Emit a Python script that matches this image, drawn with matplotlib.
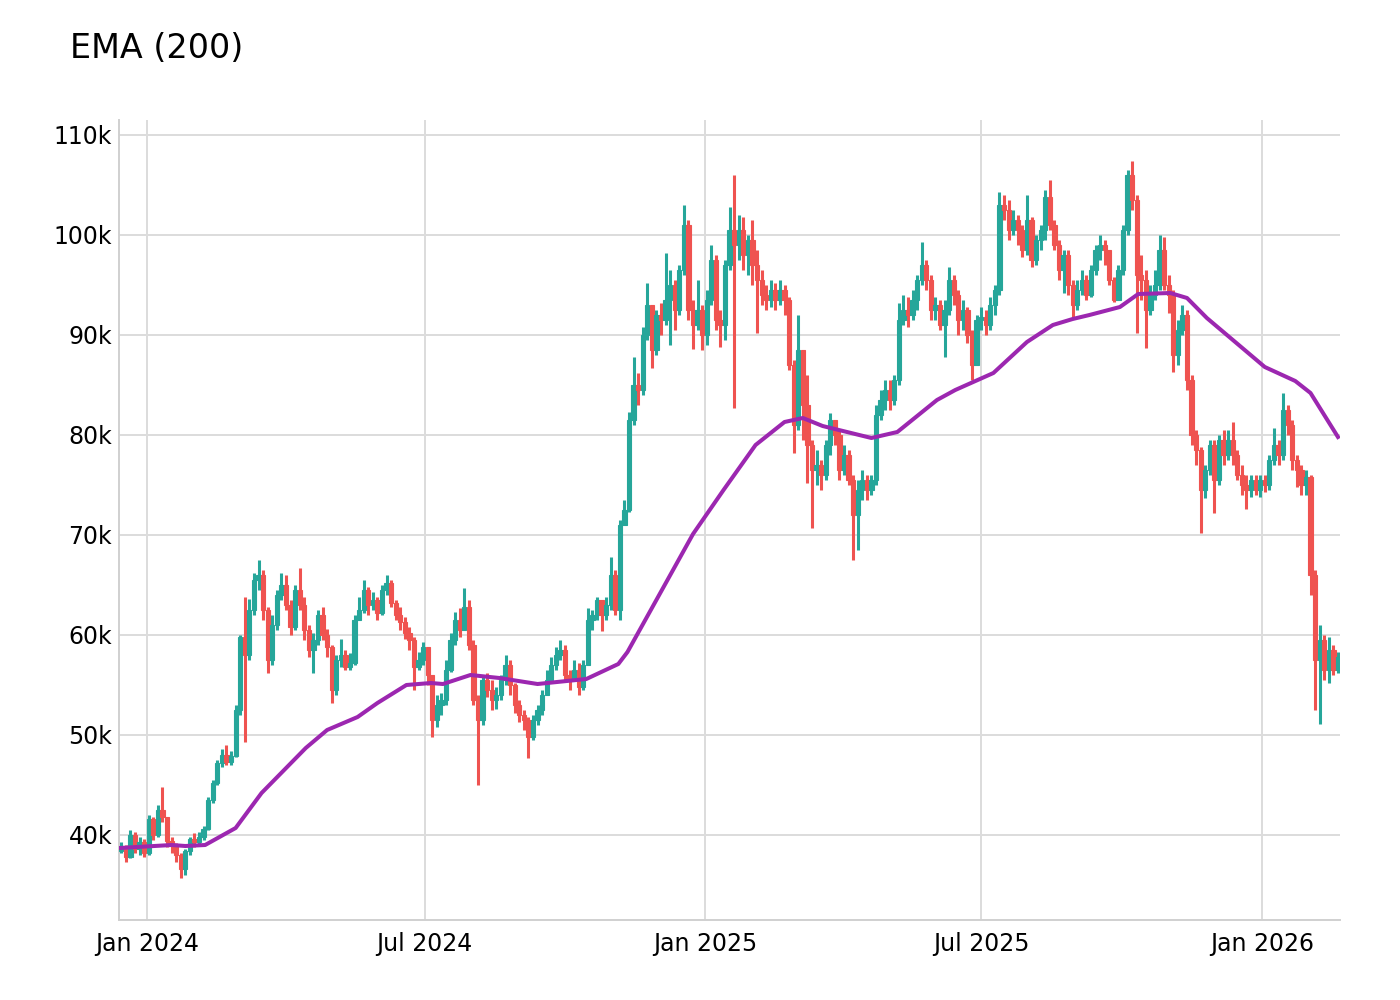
import numpy as np
import pandas as pd
import matplotlib
matplotlib.use("Agg")
import matplotlib.pyplot as plt
import matplotlib.dates as mdates

# BTC price in thousands, 3-day candles (Dec 2023 - Feb 2026)
first_open = 38.4
close = [
    38.9, 37.8, 40.0, 38.6, 39.3, 38.2, 41.6, 40.0, 42.5, 41.8,
    39.4, 39.0, 38.0, 36.6, 38.4, 39.6, 39.3, 39.8, 40.6, 43.5,
    45.2, 47.2, 48.0, 47.3, 47.9, 52.5, 59.8, 58.0, 62.5, 65.5,
    66.0, 62.5, 57.5, 61.0, 64.0, 65.0, 63.0, 60.8, 64.5, 63.0,
    60.5, 58.5, 59.5, 62.0, 60.0, 58.8, 54.5, 57.5, 58.0, 56.8,
    57.2, 61.5, 62.5, 64.5, 63.0, 63.5, 62.2, 64.5, 65.2, 63.2,
    62.0, 61.3, 60.2, 59.5, 56.8, 57.5, 58.8, 56.0, 51.5, 53.0,
    53.5, 56.5, 59.5, 61.5, 60.5, 62.8, 59.0, 53.5, 51.5, 55.5,
    54.5, 53.5, 54.0, 55.5, 57.0, 55.0, 53.0, 52.0, 51.5, 49.8,
    51.5, 52.5, 54.0, 55.5, 57.0, 58.0, 58.5, 56.0, 55.5, 56.5,
    54.8, 57.0, 61.5, 62.0, 63.5, 62.0, 63.0, 66.0, 62.5, 71.0,
    72.5, 81.5, 85.0, 84.5, 90.0, 93.0, 88.5, 92.0, 91.5, 93.5,
    95.0, 92.5, 96.5, 101.0, 92.5, 91.0, 92.5, 90.0, 93.5, 97.5,
    91.5, 91.0, 97.0, 100.5, 99.0, 100.5, 98.0, 99.5, 97.0, 95.5,
    94.0, 93.5, 94.5, 93.5, 94.5, 93.5, 87.0, 81.0, 88.5, 83.0,
    79.0, 76.5, 77.0, 76.0, 79.0, 81.5, 80.0, 76.5, 78.0, 75.5,
    72.0, 74.5, 75.5, 74.5, 75.5, 82.0, 83.5, 84.5, 83.5, 85.5,
    91.5, 92.5, 92.0, 93.5, 95.5, 97.0, 95.5, 92.5, 93.0, 91.0,
    92.5, 95.5, 94.0, 91.5, 92.5, 90.0, 87.0, 91.5, 91.8, 91.0,
    93.0, 94.5, 103.0, 102.5, 100.5, 101.5, 100.5, 98.5, 101.5, 97.5,
    99.5, 100.5, 103.8, 101.0, 99.0, 96.5, 98.0, 95.0, 93.0, 94.5,
    95.5, 94.0, 96.5, 98.5, 99.0, 98.5, 95.5, 93.5, 96.5, 100.5,
    106.0, 103.5, 96.0, 95.5, 92.5, 94.0, 95.0, 98.5, 95.0, 94.0,
    88.0, 90.5, 92.0, 85.5, 80.0, 78.5, 74.5, 76.5, 79.0, 75.5,
    79.5, 78.0, 79.5, 78.0, 76.0, 75.0, 74.5, 75.5, 74.5, 75.5,
    75.0, 77.5, 79.0, 78.0, 82.5, 81.0, 77.5, 76.5, 75.0, 75.8,
    66.0, 57.5, 59.5, 56.5, 58.5, 56.5, 57.8,
]
high = [
    39.3, 39.0, 40.5, 40.3, 39.8, 39.6, 42.0, 41.8, 43.0, 44.8,
    41.8, 39.8, 39.2, 38.2, 38.6, 39.8, 40.2, 40.3, 40.9, 43.8,
    45.5, 47.5, 48.6, 49.0, 48.4, 53.0, 60.0, 63.8, 63.6, 66.2,
    67.5, 66.5, 62.8, 62.0, 64.5, 66.2, 66.0, 63.5, 65.0, 66.7,
    63.8, 61.0, 60.2, 62.5, 62.8, 60.6, 59.0, 58.0, 59.6, 58.5,
    58.2, 62.0, 63.8, 65.5, 64.8, 64.3, 63.8, 65.0, 66.0, 65.5,
    63.5, 62.8, 61.8, 60.8, 59.8, 58.3, 59.3, 58.8, 56.0, 54.0,
    54.2, 57.5, 60.2, 62.3, 62.7, 64.7, 63.5, 59.5, 54.0, 56.0,
    56.2, 55.5, 54.8, 56.0, 58.0, 57.5, 55.2, 53.5, 52.5, 51.8,
    52.0, 53.0, 54.5, 56.5, 57.8, 58.8, 59.5, 59.0, 56.5, 57.5,
    57.2, 57.5, 62.7, 62.5, 63.8, 63.5, 63.8, 67.8, 66.5, 71.5,
    73.5, 82.3, 87.8, 86.2, 90.8, 95.2, 93.0, 92.5, 93.2, 98.2,
    96.5, 95.5, 97.0, 103.0, 101.5, 93.5, 95.5, 93.0, 94.5, 99.0,
    98.0, 92.5, 97.5, 102.8, 106.0, 102.0, 101.8, 100.0, 101.5, 98.5,
    96.5, 95.0, 95.5, 95.2, 95.5, 95.0, 93.8, 87.5, 92.0, 88.5,
    86.0, 79.5, 78.5, 77.5, 79.5, 82.2, 81.5, 80.5, 79.0, 78.5,
    76.0, 75.5, 76.5, 76.0, 76.0, 83.0, 84.5, 85.5, 85.5, 86.0,
    93.2, 94.0, 93.8, 94.5, 96.0, 99.3, 97.5, 96.0, 93.8, 93.5,
    93.5, 96.8, 96.0, 94.5, 93.5, 92.8, 90.5, 92.0, 92.8, 92.5,
    93.8, 95.0, 104.3, 104.0, 103.5, 102.5, 102.0, 101.0, 104.0, 101.8,
    100.0, 101.0, 104.5, 105.5, 101.5, 99.5, 98.5, 98.5, 95.5, 95.5,
    96.5, 96.0, 97.0, 99.0, 100.0, 99.5, 98.5, 95.8, 97.0, 101.0,
    106.5, 107.4, 104.0, 98.0, 96.5, 95.0, 96.5, 100.0, 99.8, 96.0,
    94.5, 91.5, 93.0, 92.5, 86.0, 80.5, 78.8, 77.0, 79.5, 79.5,
    80.0, 80.5, 80.5, 81.3, 78.5, 77.0, 76.0, 76.0, 76.0, 76.0,
    76.0, 78.0, 80.7, 79.5, 84.2, 83.0, 81.5, 78.0, 77.0, 76.5,
    76.0, 66.5, 61.0, 60.0, 59.8, 59.0, 58.3,
]
low = [
    38.2, 37.3, 37.7, 38.2, 38.0, 37.8, 38.0, 39.5, 39.8, 41.3,
    38.8, 38.2, 37.3, 35.7, 36.0, 38.0, 38.8, 39.0, 39.5, 40.5,
    43.2, 45.0, 46.8, 47.0, 47.0, 47.8, 52.0, 49.3, 57.5, 62.0,
    64.5, 61.5, 56.2, 57.0, 60.5, 63.5, 62.5, 60.0, 60.5, 62.5,
    59.5, 57.8, 56.2, 59.0, 59.5, 57.8, 53.2, 54.0, 56.8, 56.5,
    56.5, 57.0, 61.5, 62.2, 62.0, 62.5, 61.5, 62.0, 64.0, 62.8,
    61.5, 60.5, 59.6, 58.5, 54.5, 56.5, 57.0, 55.0, 49.8, 50.8,
    52.0, 53.0, 56.3, 59.0, 59.8, 60.5, 58.5, 53.0, 45.0, 51.0,
    53.8, 52.5, 52.6, 53.5, 55.0, 54.0, 52.2, 51.3, 50.5, 47.7,
    49.5, 51.0, 52.0, 54.0, 55.5, 56.5, 57.5, 55.5, 54.5, 55.5,
    54.0, 54.5, 57.0, 60.5, 61.5, 60.4, 61.5, 62.5, 62.0, 61.5,
    71.0, 72.3, 81.0, 83.0, 84.0, 89.5, 86.7, 88.0, 90.0, 91.0,
    89.0, 90.5, 92.0, 96.0, 91.5, 88.6, 90.5, 88.5, 89.0, 93.0,
    90.5, 88.8, 89.5, 96.5, 82.7, 97.5, 96.5, 96.0, 95.0, 90.2,
    93.0, 92.5, 92.8, 92.5, 93.0, 92.0, 86.5, 78.2, 80.5, 79.5,
    75.2, 70.7, 75.0, 74.5, 75.5, 78.0, 79.0, 75.5, 76.0, 75.0,
    67.5, 68.5, 73.5, 73.5, 74.0, 75.0, 81.5, 82.5, 82.5, 83.0,
    85.0, 91.0, 90.8, 91.5, 92.5, 95.0, 94.5, 91.5, 91.5, 90.5,
    87.8, 92.0, 93.0, 90.0, 90.5, 89.2, 85.5, 87.0, 90.5, 90.0,
    90.5, 92.0, 94.0, 101.5, 99.5, 100.0, 99.0, 97.8, 98.0, 96.8,
    97.0, 98.5, 99.5, 100.5, 98.5, 95.5, 94.2, 94.0, 91.8, 92.5,
    94.0, 93.5, 93.8, 96.0, 97.5, 97.0, 95.0, 93.3, 93.5, 96.0,
    100.0, 102.5, 90.2, 93.5, 88.7, 92.0, 93.5, 94.5, 94.5, 92.2,
    86.3, 87.0, 90.0, 84.5, 79.0, 77.0, 70.2, 73.7, 76.0, 72.2,
    75.0, 77.0, 77.5, 77.0, 75.5, 74.0, 72.6, 73.8, 74.0, 73.8,
    74.3, 74.5, 77.0, 77.0, 77.5, 80.0, 76.5, 74.8, 74.0, 74.0,
    64.0, 52.5, 51.1, 55.5, 55.2, 56.0, 56.2,
]

# EMA(200) line, read at its bends
ema_dates = [
    "2023-12-14", "2024-01-17", "2024-01-26", "2024-02-08", "2024-02-28",
    "2024-03-16", "2024-04-14", "2024-04-28", "2024-05-18", "2024-05-31",
    "2024-06-19", "2024-07-05", "2024-07-13", "2024-07-31", "2024-08-19",
    "2024-09-13", "2024-10-15", "2024-11-05", "2024-11-11", "2024-12-24",
    "2025-01-13", "2025-02-03", "2025-02-22", "2025-03-06", "2025-03-19",
    "2025-04-20", "2025-05-07", "2025-06-02", "2025-06-14", "2025-07-09",
    "2025-07-31", "2025-08-17", "2025-08-30", "2025-09-10", "2025-09-30",
    "2025-10-12", "2025-11-02", "2025-11-13", "2025-11-26", "2026-01-03",
    "2026-01-23", "2026-02-02", "2026-02-20",
]
ema_vals = [
    38.7, 39.0, 38.9, 39.0, 40.7,
    44.2, 48.7, 50.5, 51.8, 53.2,
    55.0, 55.2, 55.1, 56.0, 55.7,
    55.1, 55.6, 57.1, 58.3, 70.1,
    74.5, 79.0, 81.3, 81.7, 80.9,
    79.7, 80.3, 83.5, 84.5, 86.2,
    89.3, 91.0, 91.6, 92.0, 92.8,
    94.1, 94.2, 93.7, 91.7, 86.8,
    85.4, 84.2, 79.8,
]

yticks = [40, 50, 60, 70, 80, 90, 100, 110]

dates = pd.date_range("2023-12-15", periods=len(close), freq="3D")
x = mdates.date2num(dates)
c = np.array(close)
o = np.array([first_open] + close[:-1])
colors = np.where(c >= o, "#26a69a", "#ef5350")

fig = plt.figure(figsize=(14, 10), dpi=100)
ax = fig.add_axes([119 / 1400, 80 / 1000, 1221 / 1400, 800 / 1000])

# candles: wick + body
ax.vlines(x, low, high, colors=colors, linewidth=2.2, zorder=2)
ax.bar(x, c - o, bottom=o, width=2.8, color=colors, edgecolor=colors,
       linewidth=0.8, zorder=3)

ax.plot(mdates.date2num(pd.to_datetime(ema_dates)), ema_vals,
        color="#9c27b0", lw=2.9, zorder=4)

ax.set_ylim(31.5, 111.5)
ax.set_xlim(mdates.date2num(pd.Timestamp("2023-12-13 12:00")),
            mdates.date2num(pd.Timestamp("2026-02-21 08:00")))
ax.set_yticks(yticks)
ax.set_yticklabels([f"{v}k" for v in yticks])
ax.xaxis.set_major_locator(mdates.MonthLocator(bymonth=[1, 7]))
ax.xaxis.set_major_formatter(mdates.DateFormatter("%b %Y"))

ax.grid(True, color="#dcdcdc", linewidth=1.4)
ax.set_axisbelow(True)
for s in ["top", "right"]:
    ax.spines[s].set_visible(False)
for s in ["left", "bottom"]:
    ax.spines[s].set_color("#d0d0d0")
    ax.spines[s].set_linewidth(1.4)
ax.tick_params(axis="both", length=0, labelsize=17, colors="#000000")
ax.tick_params(axis="y", pad=5)
ax.tick_params(axis="x", pad=9)

fig.text(70 / 1400, 1 - 48 / 1000, "EMA (200)", fontsize=24, va="center", ha="left")

fig.savefig("out.png", dpi=100, facecolor="white")
